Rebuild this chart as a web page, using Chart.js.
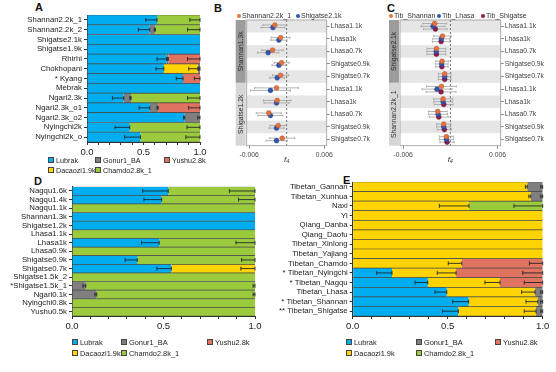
<!DOCTYPE html>
<html>
<head>
<meta charset="utf-8">
<script src="https://cdn.jsdelivr.net/npm/chart.js@4.4.1/dist/chart.umd.min.js"></script>
<style>
  body { margin: 0; background: #fff; width: 556px; height: 372px; position: relative; overflow: hidden;
         font-family: "Liberation Sans", Arial, sans-serif; color: #222; }
  canvas { position: absolute; }
  .letter { position: absolute; font-weight: bold; font-size: 11px; line-height: 11px; color: #111; }
  .lg { position: absolute; font-size: 7.4px; line-height: 9px; white-space: nowrap; color: #222; }
  .lg i { display: inline-block; width: 4px; height: 4px; border: 1px solid #444; margin-right: 2px; vertical-align: 0px; }
  .dl { position: absolute; font-size: 7px; line-height: 8px; white-space: nowrap; color: #333; }
  .dl i { display: inline-block; width: 4px; height: 4px; border-radius: 50%; margin-right: 1px; vertical-align: 0px; }
</style>
</head>
<body>
<div class="letter" style="left:35px;top:2px">A</div>
<div class="letter" style="left:214px;top:3px">B</div>
<div class="letter" style="left:387px;top:3px">C</div>
<div class="letter" style="left:34px;top:176px">D</div>
<div class="letter" style="left:343px;top:175px">E</div>

<canvas id="chartA" width="210" height="160" style="left:0;top:0"></canvas>
<canvas id="chartB" width="175" height="155" style="left:210px;top:10px"></canvas>
<canvas id="chartC" width="171" height="155" style="left:385px;top:10px"></canvas>
<canvas id="chartD" width="280" height="160" style="left:0;top:180px"></canvas>
<canvas id="chartE" width="286" height="160" style="left:270px;top:175px"></canvas>

<script>
// ---------- datos ----------
// fuentes ancestrales, en el orden en que se apilan
const sources = ['Lubrak', 'Dacaozi1.9k', 'Gonur1_BA', 'Yushu2.8k', 'Chamdo2.8k_1'];
const sourceColors = ['#00AEEF', '#FFD400', '#7F7F7F', '#E07260', '#9BCB3C'];

// Panel A
const rowsA = ['Shannan2.2k_1', 'Shannan2.2k_2', 'Shigatse2.1k', 'Shigatse1.9k', 'Rhirhi', 'Chokhopani',
  '* Kyang', 'Mebrak', 'Ngari2.3k', 'Ngari2.3k_o1', 'Ngari2.3k_o2', 'Nyingchi2k', 'Nyingchi2k_o'];
const lubrakA  = [0.62, 0.555, 1, 1, 0.705, 0.68, 0.85, 1, 0.325, 0.556, 0.865, 0.378, 0.473];
const dacaoziA = [0, 0, 0, 0, 0, 0.30, 0, 0, 0, 0, 0, 0, 0];
const gonurA   = [0, 0.05, 0, 0, 0.015, 0.02, 0, 0, 0.065, 0.074, 0.135, 0, 0];
const yushuA   = [0, 0, 0, 0, 0.28, 0, 0.15, 0, 0, 0.37, 0, 0, 0];
const chamdoA  = [0.38, 0.395, 0, 0, 0, 0, 0, 0, 0.61, 0, 0, 0.622, 0.527];
const lubrakErrA  = [0.10, 0.10, 0, 0, 0.085, 0.07, 0.06, 0, 0.10, 0.095, 0.01, 0.13, 0.14];
const dacaoziErrA = [0, 0, 0, 0, 0, 0.08, 0, 0, 0, 0, 0, 0, 0];
const gonurErrA   = [0, 0.01, 0, 0, 0.01, 0.01, 0, 0, 0.01, 0.01, 0.02, 0, 0];
const yushuErrA   = [0, 0, 0, 0, 0.11, 0, 0.05, 0, 0, 0.10, 0, 0, 0];
const chamdoErrA  = [0.09, 0.11, 0, 0, 0, 0, 0, 0, 0.11, 0, 0, 0.115, 0.125];

// Panel D
const rowsD = ['Nagqu1.6k', 'Nagqu1.4k', 'Nagqu1.1k', 'Shannan1.3k', 'Shigatse1.2k', 'Lhasa1.1k', 'Lhasa1k',
  'Lhasa0.9k', 'Shigatse0.9k', 'Shigatse0.7k', 'Shigatse1.5k_2', '*Shigatse1.5k_1', 'Ngari0.1k', 'Nyingchi0.8k', 'Yushu0.5k'];
const lubrakD  = [0.526, 0.49, 0, 1, 1, 0, 0.477, 0, 0.357, 0.543, 0, 0, 0, 0, 0];
const dacaoziD = [0, 0, 0, 0, 0, 0, 0, 0, 0, 0.457, 0, 0, 0, 0, 0];
const gonurD   = [0, 0, 0, 0, 0, 0, 0, 0, 0, 0, 0, 0.075, 0.135, 0, 0];
const yushuD   = [0, 0, 0, 0, 0, 0, 0, 0, 0, 0, 0, 0, 0, 0, 0];
const chamdoD  = [0.474, 0.51, 1, 0, 0, 1, 0.523, 1, 0.643, 0, 1, 0.925, 0.865, 1, 1];
const lubrakErrD  = [0.14, 0.097, 0, 0, 0, 0, 0.097, 0, 0.067, 0.079, 0, 0, 0, 0, 0];
const dacaoziErrD = [0, 0, 0, 0, 0, 0, 0, 0, 0, 0.077, 0, 0, 0, 0, 0];
const gonurErrD   = [0, 0, 0, 0, 0, 0, 0, 0, 0, 0, 0, 0.015, 0.01, 0, 0];
const yushuErrD   = [0, 0, 0, 0, 0, 0, 0, 0, 0, 0, 0, 0, 0, 0, 0];
const chamdoErrD  = [0.14, 0.09, 0, 0, 0, 0, 0.104, 0, 0.073, 0, 0, 0.01, 0.01, 0, 0];

// Panel E
const rowsE = ['Tibetan_Gannan', 'Tibetan_Xunhua', 'Naxi', 'Yi', 'Qiang_Danba', 'Qiang_Daofu', 'Tibetan_Xinlong',
  'Tibetan_Yajiang', 'Tibetan_Chamdo', '* Tibetan_Nyingchi', '* Tibetan_Nagqu', 'Tibetan_Lhasa', '* Tibetan_Shannan', '** Tibetan_Shigatse'];
const lubrakE  = [0, 0, 0, 0, 0, 0, 0, 0, 0, 0.207, 0.395, 0.495, 0.61, 0.556];
const dacaoziE = [0.919, 0.937, 0.612, 1, 1, 1, 1, 1, 0.574, 0.337, 0.38, 0.465, 0.364, 0.409];
const gonurE   = [0.081, 0.063, 0, 0, 0, 0, 0, 0, 0, 0, 0, 0.04, 0.026, 0.035];
const yushuE   = [0, 0, 0, 0, 0, 0, 0, 0, 0.426, 0.456, 0.225, 0, 0, 0];
const chamdoE  = [0, 0, 0.388, 0, 0, 0, 0, 0, 0, 0, 0, 0, 0, 0];
const lubrakErrE  = [0, 0, 0, 0, 0, 0, 0, 0, 0, 0.081, 0.067, 0.062, 0.084, 0.083];
const dacaoziErrE = [0.01, 0.01, 0.156, 0, 0, 0, 0, 0, 0.071, 0.099, 0.079, 0.071, 0.062, 0.062];
const gonurErrE   = [0.01, 0.01, 0, 0, 0, 0, 0, 0, 0, 0, 0, 0.01, 0.01, 0.01];
const yushuErrE   = [0, 0, 0, 0, 0, 0, 0, 0, 0.07, 0.105, 0.097, 0, 0, 0];
const chamdoErrE  = [0, 0, 0.151, 0, 0, 0, 0, 0, 0, 0, 0, 0, 0, 0];

// Panel B (f4)
const rowsB = ['Lhasa1.1k', 'Lhasa1k', 'Lhasa0.7k', 'Shigatse0.9k', 'Shigatse0.7k',
  'Lhasa1.1k', 'Lhasa1k', 'Lhasa0.7k', 'Shigatse0.9k', 'Shigatse0.7k'];
const facetsB = ['Shannan1.3k', 'Shigatse1.2k'];
const bShannan  = [-0.0019, -0.00098, -0.00227, -0.00082, -0.00098, -0.00163, -0.00152, -0.00286, -0.00136, -0.00072];
const bShigatse = [-0.0022, -0.00125, -0.00297, -0.00125, -0.00152, -0.0026, -0.00163, -0.0026, -0.00163, -0.00163];
const bShannanErr  = [0.0019, 0.0015, 0.0017, 0.0012, 0.0013, 0.0035, 0.0022, 0.0020, 0.0013, 0.0020];
const bShigatseErr = [0.0019, 0.0013, 0.0017, 0.0011, 0.0012, 0.0032, 0.0020, 0.0020, 0.0012, 0.0017];

// Panel C (f4)
const rowsC = rowsB;
const facetsC = ['Shigatse2.1k', 'Shannan2.2k_1'];
const cShannan  = [-0.0020, -0.0010, -0.00177, -0.00105, -0.00072, -0.00114, -0.00092, -0.0016, -0.00084, -0.0005];
const cLhasa    = [-0.0022, -0.00114, -0.0018, -0.0011, -0.00072, -0.0017, -0.00092, -0.00155, -0.00084, -0.0005];
const cShigatse = [-0.0019, -0.00118, -0.00177, -0.00108, -0.00072, -0.00118, -0.00084, -0.00147, -0.00076, -0.00042];
const cErr = [0.0015, 0.0011, 0.0012, 0.0008, 0.0008, 0.0019, 0.0012, 0.0012, 0.0009, 0.0009];

// ---------- estilos comunes ----------
Chart.defaults.font.family = "'Liberation Sans', Arial, sans-serif";
Chart.defaults.color = '#222';
Chart.defaults.animation = false;

// barras de error: desde (fin acumulado - err) hasta el fin del segmento
const errorBars = {
  id: 'errorBars',
  afterDatasetsDraw(chart, args, opts) {
    const ctx = chart.ctx;
    const xs = chart.scales.x;
    ctx.save();
    ctx.strokeStyle = 'rgba(25,30,40,0.85)';
    ctx.lineWidth = 1;
    chart.data.datasets.forEach((ds, k) => {
      const meta = chart.getDatasetMeta(k);
      ds.data.forEach((v, i) => {
        const e = opts.errs[k][i];
        if (!v || !e) return;
        const bar = meta.data[i];
        const x2 = bar.x;
        const x1 = xs.getPixelForValue(xs.getValueForPixel(x2) - e);
        const y = bar.y;
        ctx.beginPath();
        ctx.moveTo(x1, y); ctx.lineTo(x2, y);
        ctx.moveTo(x1, y - 2); ctx.lineTo(x1, y + 2);
        ctx.moveTo(x2, y - 2); ctx.lineTo(x2, y + 2);
        ctx.stroke();
      });
    });
    ctx.restore();
  }
};

function stackedBars(id, rows, parts, errs, box) {
  return new Chart(document.getElementById(id), {
    type: 'bar',
    data: {
      labels: rows,
      datasets: sources.map((s, k) => ({
        label: s,
        data: parts[k],
        backgroundColor: sourceColors[k],
        borderColor: '#4a4a4a',
        borderWidth: { top: 0.7, bottom: 0.7, left: 0, right: 0 },
        borderSkipped: false,
        barPercentage: 1,
        categoryPercentage: 1
      }))
    },
    options: {
      indexAxis: 'y',
      responsive: false,
      layout: { padding: { left: 0, top: box.top, right: box.right, bottom: 0 } },
      plugins: { legend: { display: false }, tooltip: { enabled: false }, errorBars: { errs } },
      scales: {
        x: {
          stacked: true, min: 0, max: 1,
          ticks: {
            stepSize: 0.1, autoSkip: false, maxRotation: 0, padding: 2,
            font: { size: 9.5 }, color: '#222',
            callback: v => ({ 0: '0.0', 5: '0.5', 10: '1.0' })[Math.round(v * 10)] || ''
          },
          grid: { drawOnChartArea: false, tickLength: 3, color: '#333' },
          border: { color: '#333' },
          afterFit: s => { s.height = box.xh; }
        },
        y: {
          stacked: true,
          ticks: { autoSkip: false, padding: 2, font: { size: 7.8 }, color: '#222' },
          grid: { drawOnChartArea: false, tickLength: 3, offset: false, color: '#333' },
          border: { color: '#333' },
          afterFit: s => { s.width = box.left; }
        }
      }
    },
    plugins: [errorBars]
  });
}

// paneles f4: bandas, línea cero, errores, franjas de faceta y borde
const facetPanel = {
  id: 'facetPanel',
  beforeDatasetsDraw(chart, args, opts) {
    const { ctx, chartArea: a, scales: { x, y } } = chart;
    ctx.save();
    ctx.fillStyle = '#e6e6e6';
    for (let r = 1; r <= 10; r += 2) {
      const t = y.getPixelForValue(r - 0.5), b = y.getPixelForValue(r + 0.5);
      ctx.fillRect(a.left, t, a.width, b - t);
    }
    ctx.strokeStyle = '#555';
    ctx.lineWidth = 0.8;
    ctx.setLineDash([2, 2]);
    const x0 = x.getPixelForValue(0);
    ctx.beginPath(); ctx.moveTo(x0, a.top); ctx.lineTo(x0, a.bottom); ctx.stroke();
    ctx.setLineDash([]);
    ctx.strokeStyle = '#a0a0a0';
    chart.data.datasets.forEach(ds => {
      ds.data.forEach((p, i) => {
        const e = ds.errs[i];
        const x1 = x.getPixelForValue(p.x - e), x2 = x.getPixelForValue(p.x + e);
        const yy = y.getPixelForValue(p.y);
        ctx.beginPath();
        ctx.moveTo(x1, yy); ctx.lineTo(x2, yy);
        ctx.moveTo(x1, yy - 1.2); ctx.lineTo(x1, yy + 1.2);
        ctx.moveTo(x2, yy - 1.2); ctx.lineTo(x2, yy + 1.2);
        ctx.stroke();
      });
    });
    ctx.restore();
  },
  afterDraw(chart, args, opts) {
    const { ctx, chartArea: a, scales: { y } } = chart;
    ctx.save();
    ctx.strokeStyle = '#9a9a9a';
    ctx.lineWidth = 0.8;
    ctx.strokeRect(a.left, a.top, a.width, a.height);
    opts.facets.forEach((name, f) => {
      const t = y.getPixelForValue(f * 5 + 0.5), b = y.getPixelForValue(f * 5 + 5.5);
      ctx.fillStyle = f === 0 ? '#9c9c9c' : '#d6d6d6';
      ctx.fillRect(a.left - 11, t, 10, b - t);
      ctx.translate(a.left - 6, (t + b) / 2);
      ctx.rotate(-Math.PI / 2);
      ctx.fillStyle = '#2a2a2a';
      ctx.font = "6.8px 'Liberation Sans', Arial, sans-serif";
      ctx.textAlign = 'center';
      ctx.textBaseline = 'middle';
      ctx.fillText(name, 0, 0);
      ctx.setTransform(1, 0, 0, 1, 0, 0);
    });
    ctx.restore();
  }
};

function dotChart(id, rows, facets, series, box) {
  return new Chart(document.getElementById(id), {
    type: 'scatter',
    data: {
      datasets: series.map(s => ({
        label: s.label,
        data: s.vals.map((v, i) => ({ x: v, y: i + 1 + s.off })),
        errs: s.errs,
        pointRadius: 2.4,
        pointBackgroundColor: s.color,
        pointBorderColor: s.edge,
        pointBorderWidth: 0.5
      }))
    },
    options: {
      responsive: false,
      layout: { padding: { left: box.left, top: box.top, right: box.right, bottom: 0 } },
      plugins: { legend: { display: false }, tooltip: { enabled: false }, facetPanel: { facets } },
      scales: {
        x: {
          min: -0.0064, max: 0.0064,
          afterBuildTicks: s => { s.ticks = [{ value: -0.006 }, { value: 0.006 }]; },
          ticks: { font: { size: 6.8 }, color: '#444', padding: 2, maxRotation: 0, callback: v => v.toFixed(3) },
          grid: { drawOnChartArea: false, tickLength: 3, color: '#888' },
          border: { display: false },
          title: { display: true, text: 'f₄', font: { size: 8, style: 'italic' }, color: '#333', padding: { top: 0, bottom: 0 } },
          afterFit: s => { s.height = box.xh; }
        },
        y: {
          position: 'right', reverse: true, min: 0.5, max: 10.5,
          afterBuildTicks: s => { s.ticks = rows.map((_, i) => ({ value: i + 1 })); },
          ticks: { font: { size: 6.8 }, color: '#444', padding: 1, callback: v => rows[v - 1] },
          grid: { drawOnChartArea: false, tickLength: 3, color: '#888' },
          border: { display: false },
          afterFit: s => { s.width = box.yw; }
        }
      }
    },
    plugins: [facetPanel]
  });
}

// ---------- gráficos ----------
const chartA = stackedBars('chartA', rowsA,
  [lubrakA, dacaoziA, gonurA, yushuA, chamdoA],
  [lubrakErrA, dacaoziErrA, gonurErrA, yushuErrA, chamdoErrA],
  { left: 87, top: 15, right: 10, xh: 18 });

const chartD = stackedBars('chartD', rowsD,
  [lubrakD, dacaoziD, gonurD, yushuD, chamdoD],
  [lubrakErrD, dacaoziErrD, gonurErrD, yushuErrD, chamdoErrD],
  { left: 72, top: 6, right: 25, xh: 24 });

const chartE = stackedBars('chartE', rowsE,
  [lubrakE, dacaoziE, gonurE, yushuE, chamdoE],
  [lubrakErrE, dacaoziErrE, gonurErrE, yushuErrE, chamdoErrE],
  { left: 82.7, top: 7, right: 13.3, xh: 19 });

const chartB = dotChart('chartB', rowsB, facetsB, [
  { label: 'Shannan2.2k_1', vals: bShannan, errs: bShannanErr, off: -0.1, color: '#E4743F', edge: '#b0502a' },
  { label: 'Shigatse2.1k', vals: bShigatse, errs: bShigatseErr, off: 0.1, color: '#2E55B0', edge: '#1d3a80' }
], { left: 36.7, top: 10, right: 2.3, yw: 56, xh: 19.3 });

const chartC = dotChart('chartC', rowsC, facetsC, [
  { label: 'Tib_Shannan', vals: cShannan, errs: cErr, off: -0.22, color: '#E4743F', edge: '#b0502a' },
  { label: 'Tib_Lhasa', vals: cLhasa, errs: cErr, off: 0, color: '#2E55B0', edge: '#1d3a80' },
  { label: 'Tib_Shigatse', vals: cShigatse, errs: cErr, off: 0.22, color: '#8E1B4E', edge: '#5e0f32' }
], { left: 15, top: 10, right: 2.3, yw: 53, xh: 19.3 });

// ---------- leyendas HTML a partir de los datasets ----------
const legendRows = [['Lubrak', 'Gonur1_BA', 'Yushu2.8k'], ['Dacaozi1.9k', 'Chamdo2.8k_1']];
function barLegend(chart, cols, rowsY, size) {
  legendRows.forEach((names, r) => {
    names.forEach((n, c) => {
      const ds = chart.data.datasets.find(d => d.label === n);
      const el = document.createElement('div');
      el.className = 'lg';
      el.style.left = cols[c] + 'px';
      el.style.top = (rowsY[r] - 4.5) + 'px';
      el.style.fontSize = size + 'px';
      el.innerHTML = '<i style="background:' + ds.backgroundColor + '"></i>' + n;
      document.body.appendChild(el);
    });
  });
}
barLegend(chartA, [48, 95, 164], [160, 170], 7.2);
barLegend(chartD, [72, 121, 207], [342, 353], 7.4);
barLegend(chartE, [346, 416, 495], [342, 353], 7.4);

function dotLegend(chart, xs, y) {
  chart.data.datasets.forEach((ds, k) => {
    const el = document.createElement('div');
    el.className = 'dl';
    el.style.left = xs[k] + 'px';
    el.style.top = (y - 4) + 'px';
    el.innerHTML = '<i style="background:' + ds.pointBackgroundColor + '"></i>' + ds.label;
    document.body.appendChild(el);
  });
}
dotLegend(chartB, [237, 296], 16);
dotLegend(chartC, [389, 437, 481], 16);
</script>
</body>
</html>
